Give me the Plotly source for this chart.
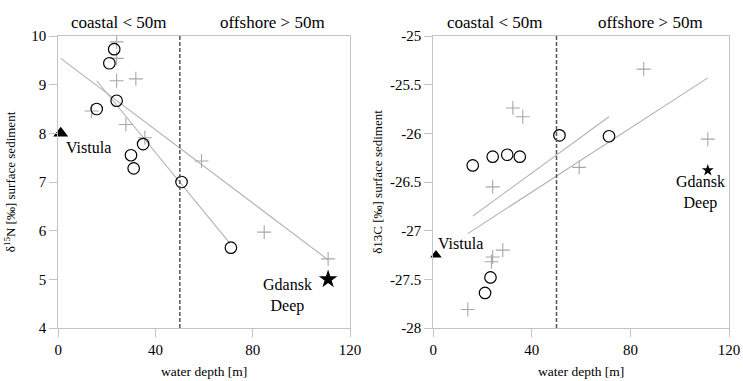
import plotly.graph_objects as go
from plotly.subplots import make_subplots

# ---- Left panel: delta15N ----
n_circle_depth = [23.0, 21.0, 15.8, 24.0, 34.9, 29.9, 31.0, 50.7, 71.0]
n_circle_val = [9.73, 9.44, 8.50, 8.67, 7.78, 7.55, 7.28, 7.00, 5.65]
n_plus_depth = [24.0, 24.0, 24.0, 31.9, 13.7, 27.8, 35.6, 58.9, 84.7, 111.0]
n_plus_val = [9.88, 9.54, 9.08, 9.12, 8.46, 8.18, 7.91, 7.43, 5.97, 5.42]
n_vistula = (1.0, 8.0)
n_gdansk = (111.0, 5.0)
n_fit_all_x = [1.0, 111.0]
n_fit_all_y = [9.54, 5.40]
n_fit_circ_x = [15.8, 70.6]
n_fit_circ_y = [9.08, 5.74]
n_y_ticks = [4, 5, 6, 7, 8, 9, 10]

# ---- Right panel: delta13C ----
c_circle_depth = [16.0, 24.1, 30.0, 35.1, 51.2, 71.3, 23.2, 21.0]
c_circle_val = [-26.33, -26.24, -26.22, -26.24, -26.02, -26.03, -27.48, -27.64]
c_plus_depth = [32.3, 36.3, 85.4, 111.4, 59.2, 24.1, 28.2, 24.1, 23.6, 14.0]
c_plus_val = [-25.74, -25.83, -25.34, -26.06, -26.35, -26.55, -27.20, -27.27, -27.32, -27.81]
c_vistula = (1.1, -27.25)
c_gdansk = (111.4, -26.38)
c_fit_upper_x = [16.0, 71.3]
c_fit_upper_y = [-26.85, -25.83]
c_fit_lower_x = [14.0, 111.4]
c_fit_lower_y = [-27.03, -25.43]
c_y_ticks = [-28, -27.5, -27, -26.5, -26, -25.5, -25]
c_y_ticktext = ["-28", "-27.5", "-27", "-26.5", "-26", "-25.5", "-25"]

boundary_depth = 50
x_ticks = [0, 40, 80, 120]

FONT = "Liberation Serif, Times New Roman, DejaVu Serif, serif"
FRAME = "#c4c4c4"
PLUS = "#a8a8a8"
FITC = "#b2b2b2"

fig = make_subplots(rows=1, cols=2)

def add_panel(col, cx, cy, px, py, fits, vis, gd, tri_size, star_size):
    for fx, fy in fits:
        fig.add_trace(go.Scatter(x=fx, y=fy, mode="lines",
                                 line=dict(color=FITC, width=1.1),
                                 showlegend=False, hoverinfo="skip"), row=1, col=col)
    fig.add_trace(go.Scatter(x=px, y=py, mode="markers", cliponaxis=False,
                             marker=dict(symbol="cross-thin", size=10,
                                         line=dict(color=PLUS, width=1.1)),
                             showlegend=False), row=1, col=col)
    fig.add_trace(go.Scatter(x=cx, y=cy, mode="markers", cliponaxis=False,
                             marker=dict(symbol="circle-open", size=11.5,
                                         color="black",
                                         line=dict(color="black", width=1.2)),
                             showlegend=False), row=1, col=col)
    fig.add_trace(go.Scatter(x=[vis[0]], y=[vis[1]], mode="markers", cliponaxis=False,
                             marker=dict(symbol="triangle-up", size=tri_size, color="black"),
                             showlegend=False), row=1, col=col)
    fig.add_trace(go.Scatter(x=[gd[0]], y=[gd[1]], mode="markers", cliponaxis=False,
                             marker=dict(symbol="star", size=star_size, color="black"),
                             showlegend=False), row=1, col=col)

add_panel(1, n_circle_depth, n_circle_val, n_plus_depth, n_plus_val,
          [(n_fit_all_x, n_fit_all_y), (n_fit_circ_x, n_fit_circ_y)],
          n_vistula, n_gdansk, 13, 14)
add_panel(2, c_circle_depth, c_circle_val, c_plus_depth, c_plus_val,
          [(c_fit_upper_x, c_fit_upper_y), (c_fit_lower_x, c_fit_lower_y)],
          c_vistula, c_gdansk, 10, 9)

ydom = [1 - 328 / 381, 1 - 36 / 381]
axis_common = dict(showgrid=False, zeroline=False, showline=True, mirror=True,
                   linecolor=FRAME, linewidth=1, ticks="outside", ticklen=8,
                   tickcolor=FRAME, tickwidth=1,
                   tickfont=dict(family=FONT, size=15, color="black"),
                   automargin=False)
xtitle = dict(text="water depth [m]", font=dict(family=FONT, size=13.5), standoff=9)

fig.update_layout(
    width=743, height=381,
    margin=dict(l=0, r=0, t=0, b=0),
    paper_bgcolor="white", plot_bgcolor="white",
    font=dict(family=FONT, color="black"),
    xaxis=dict(domain=[58.3 / 743, 350 / 743], range=[0, 120], tickvals=x_ticks,
               title=xtitle, **axis_common),
    xaxis2=dict(domain=[433.3 / 743, 729 / 743], range=[0, 120], tickvals=x_ticks,
                title=xtitle, **axis_common),
    yaxis=dict(domain=ydom, range=[4, 10], tickvals=n_y_ticks,
               title=dict(text="δ<sup>15</sup>N [‰] surface sediment",
                          font=dict(family=FONT, size=13), standoff=12),
               **axis_common),
    yaxis2=dict(domain=ydom, range=[-28, -25], tickvals=c_y_ticks, ticktext=c_y_ticktext,
                title=dict(text="δ13C [‰] surface sediment",
                           font=dict(family=FONT, size=13), standoff=4),
                **axis_common),
)

for col, xr in ((1, "x"), (2, "x2")):
    fig.add_vline(x=boundary_depth, line=dict(color="#555555", width=1.5, dash="4px,2px"),
                  row=1, col=col)
    fig.add_annotation(x=25, y=0.971, xref=xr, yref="paper", text="coastal < 50m",
                       showarrow=False, font=dict(family=FONT, size=17))
    fig.add_annotation(x=88, y=0.971, xref=xr, yref="paper", text="offshore > 50m",
                       showarrow=False, font=dict(family=FONT, size=17))

fig.add_annotation(x=2.5, y=7.7, xref="x", yref="y", text="Vistula", xanchor="left",
                   showarrow=False, font=dict(family=FONT, size=16))
fig.add_annotation(x=94.4, y=4.66, xref="x", yref="y", text="Gdansk<br>Deep",
                   showarrow=False, font=dict(family=FONT, size=16))
fig.add_annotation(x=1.1, y=-27.13, xref="x2", yref="y2", text="Vistula", xanchor="left",
                   showarrow=False, font=dict(family=FONT, size=16))
fig.add_annotation(x=108.5, y=-26.61, xref="x2", yref="y2", text="Gdansk<br>Deep",
                   showarrow=False, font=dict(family=FONT, size=16))

fig.write_html("out.html", config={"displayModeBar": False},
               post_script="document.body.style.margin='0';document.body.style.overflow='hidden';")
